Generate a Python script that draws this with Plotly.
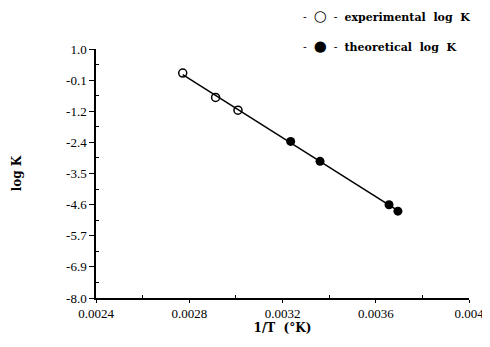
import numpy as np
import plotly.graph_objects as go

# Data
exp_x = [0.002772, 0.002913, 0.003009]
exp_y = [0.13, -0.75, -1.21]
theo_x = [0.003235, 0.003361, 0.003657, 0.003695]
theo_y = [-2.34, -3.06, -4.63, -4.86]

x_tick_vals = [0.0024, 0.0028, 0.0032, 0.0036, 0.004]
x_tick_text = ["0.0024", "0.0028", "0.0032", "0.0036", "0.004"]
y_tick_text = ["-8.0", "-6.9", "-5.7", "-4.6", "-3.5", "-2.4", "-1.2", "-0.1", "1.0"]
y_min, y_max = -8.0, 1.0

all_x = np.array(exp_x + theo_x)
all_y = np.array(exp_y + theo_y)
slope, intercept = np.polyfit(all_x, all_y, 1)
line_x = np.array([all_x.min(), all_x.max()])
line_y = slope * line_x + intercept

FONT = "Liberation Serif"
BOLD = "DejaVu Serif"

fig = go.Figure()
fig.add_trace(go.Scatter(x=line_x, y=line_y, mode="lines",
                         line=dict(color="black", width=1.5), showlegend=False))
fig.add_trace(go.Scatter(x=exp_x, y=exp_y, mode="markers",
                         marker=dict(symbol="circle-open", size=8, color="black",
                                     line=dict(width=1.5, color="black")),
                         showlegend=False))
fig.add_trace(go.Scatter(x=theo_x, y=theo_y, mode="markers",
                         marker=dict(symbol="circle", size=9, color="black"),
                         showlegend=False))

y_tick_vals = list(np.linspace(y_min, y_max, len(y_tick_text)))

fig.update_layout(
    width=482, height=339,
    margin=dict(l=88, r=21, t=41, b=49),
    paper_bgcolor="white", plot_bgcolor="white",
    font=dict(family=FONT, color="black", size=13),
    xaxis=dict(range=[0.0024, 0.004], tickvals=x_tick_vals, ticktext=x_tick_text,
               showgrid=False, zeroline=False, showline=True, linecolor="black",
               linewidth=1.5, ticks="outside", ticklen=3, tickwidth=1.2,
               tickcolor="black", automargin=False,
               minor=dict(tickvals=[0.0026, 0.003, 0.0034, 0.0038], ticks="inside",
                          ticklen=3, tickcolor="black"),
               title=dict(text="<b>1/T  (°K)</b>", standoff=2,
                          font=dict(size=12, family=BOLD))),
    yaxis=dict(range=[y_min, y_max], tickvals=y_tick_vals, ticktext=y_tick_text,
               showgrid=False, zeroline=False, showline=True, linecolor="black",
               linewidth=1.5, ticks="outside", ticklen=5, tickwidth=1.2,
               tickcolor="black", automargin=False,
               minor=dict(tickvals=list(np.array(y_tick_vals[:-1]) + 1.125 / 2),
                          ticks="inside", ticklen=3, tickcolor="black"),
               title=dict(text="<b>log K</b>", standoff=42,
                          font=dict(size=12, family=BOLD))),
)

fig.add_annotation(xref="paper", yref="paper", x=0.55, y=1.134, xanchor="left",
                   yanchor="middle", showarrow=False,
                   text="-  <span style='font-size:15px'>○</span>  -  <b>experimental  log  K</b>",
                   font=dict(size=11, family=BOLD))
fig.add_annotation(xref="paper", yref="paper", x=0.55, y=1.012, xanchor="left",
                   yanchor="middle", showarrow=False,
                   text="-  <span style='font-size:15px'>●</span>  -  <b>theoretical  log  K</b>",
                   font=dict(size=11, family=BOLD))

fig.write_html("out.html")
